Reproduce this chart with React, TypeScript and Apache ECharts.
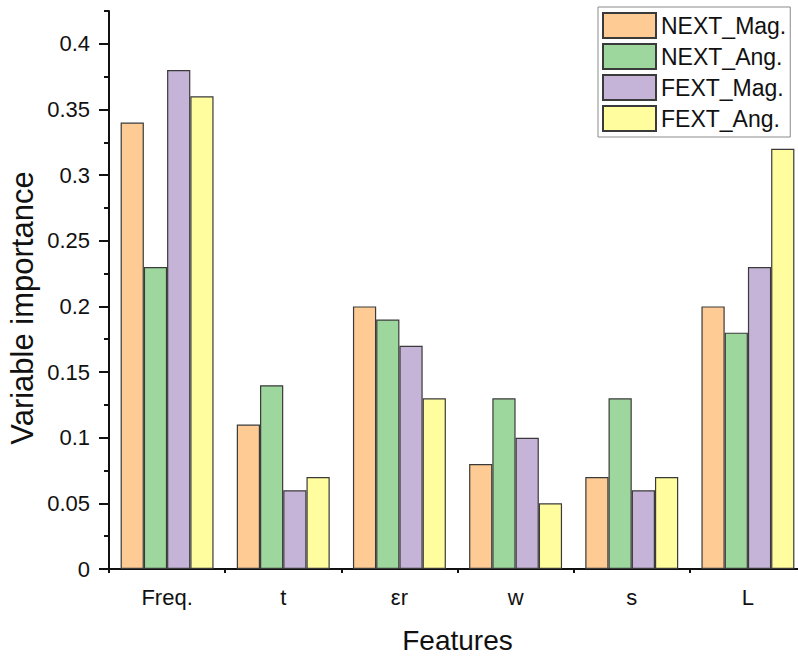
import React, { useEffect, useRef } from "react";
import * as echarts from "echarts";

const categories = ["Freq.", "t", "εr", "w", "s", "L"];
const seriesNames = ["NEXT_Mag.", "NEXT_Ang.", "FEXT_Mag.", "FEXT_Ang."];
const nextMag = [0.34, 0.11, 0.2, 0.08, 0.07, 0.2];
const nextAng = [0.23, 0.14, 0.19, 0.13, 0.13, 0.18];
const fextMag = [0.38, 0.06, 0.17, 0.1, 0.06, 0.23];
const fextAng = [0.36, 0.07, 0.13, 0.05, 0.07, 0.32];
const majorTicks = [0, 0.05, 0.1, 0.15, 0.2, 0.25, 0.3, 0.35, 0.4];
const colors = ["#FECB94", "#9DD79D", "#C6B4D8", "#FFFD9E"];

export default function App() {
  const ref = useRef<HTMLDivElement>(null);
  useEffect(() => {
    if (!ref.current) return;
    document.body.style.margin = "0";
    document.body.style.overflow = "hidden";
    const chart = echarts.init(ref.current, undefined, { renderer: "svg" });
    const font = "Liberation Sans, Arial, sans-serif";
    const values = [nextMag, nextAng, fextMag, fextAng];
    chart.setOption({
      animation: false,
      textStyle: { fontFamily: font },
      grid: { left: 109, right: 0, top: 11, bottom: 87 },
      legend: {
        orient: "vertical",
        left: 598,
        top: 7,
        padding: [5, 4, 5, 4],
        itemWidth: 53,
        itemHeight: 25,
        itemGap: 4,
        borderColor: "#8a8a8a",
        borderWidth: 1,
        icon: "rect",
        textStyle: { fontSize: 23, color: "#111", fontFamily: font },
        data: seriesNames,
      },
      graphic: [
        {
          type: "text",
          x: 22,
          y: 308,
          rotation: Math.PI / 2,
          style: {
            text: "Variable importance",
            font: "31px " + font,
            fill: "#111",
            align: "center",
            verticalAlign: "middle",
          },
        },
      ],
      xAxis: [
        {
          type: "category",
          data: categories,
          position: "bottom",
          axisLine: { lineStyle: { color: "#111", width: 2 } },
          axisTick: { alignWithLabel: true, length: 10, lineStyle: { color: "#111", width: 2 } },
          axisLabel: { fontSize: 22, color: "#111", margin: 17, fontFamily: font },
          name: "Features",
          nameLocation: "middle",
          nameGap: 57,
          nameTextStyle: { fontSize: 28, color: "#111", fontFamily: font },
        },
        {
          type: "category",
          data: categories,
          position: "bottom",
          axisLine: { show: false },
          axisTick: { show: true, length: 4, lineStyle: { color: "#111", width: 2 } },
          axisLabel: { show: false },
        },
      ],
      yAxis: [
        {
          type: "value",
          min: 0,
          max: 0.425,
          interval: 0.025,
          splitLine: { show: false },
          axisLine: { show: true, lineStyle: { color: "#111", width: 2 } },
          axisTick: { show: true, length: 5, lineStyle: { color: "#111", width: 2 } },
          axisLabel: {
            fontSize: 22,
            color: "#111",
            margin: 19,
            fontFamily: font,
            formatter: (v: number) => {
              const m = Math.round(v * 1000);
              return m % 50 === 0 && m <= 400 ? String(+(m / 1000).toFixed(3)) : "";
            },
          },
        },
        {
          type: "value",
          min: 0,
          max: 0.425,
          interval: 0.025,
          position: "left",
          splitLine: { show: false },
          axisLine: { show: false },
          axisTick: { show: true, length: 10, customValues: majorTicks, lineStyle: { color: "#111", width: 2 } },
          axisLabel: { show: false },
        },
      ],
      series: seriesNames.map((name, i) => ({
        name,
        type: "bar",
        data: values[i],
        barGap: "0%",
        barCategoryGap: "20%",
        itemStyle: { color: colors[i], borderColor: "#3a3a3a", borderWidth: 1.2 },
      })),
    });
    return () => chart.dispose();
  }, []);
  return (
    <div style={{ width: 798, height: 659, overflow: "hidden", position: "relative" }}>
      <div ref={ref} style={{ width: 806, height: 659 }} />
    </div>
  );
}
